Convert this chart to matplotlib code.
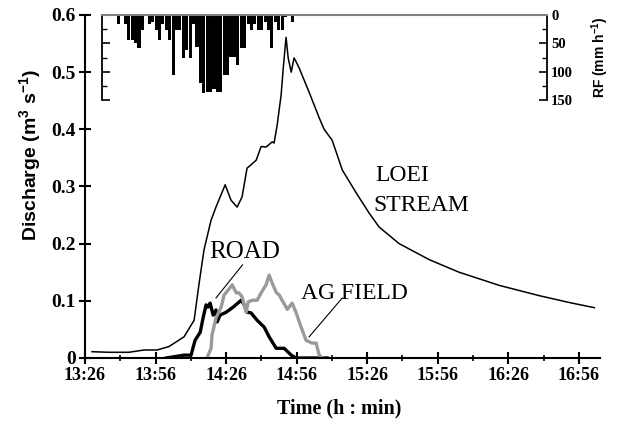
import numpy as np
import matplotlib
matplotlib.use("Agg")
import matplotlib.pyplot as plt
from matplotlib.ticker import MultipleLocator

plt.rcParams['mathtext.fontset'] = 'custom'
plt.rcParams['mathtext.rm'] = 'Liberation Sans:bold'
plt.rcParams['mathtext.bf'] = 'Liberation Sans:bold'

# time axis: minutes after 13:26
loei_t = [3.0, 10.2, 18.7, 25.1, 30.6, 35.7, 42.1, 46.4, 48.5, 50.6, 53.6, 55.7,
          59.6, 62.1, 64.7, 66.8, 68.9, 70.6, 72.8, 74.9, 77.0, 79.6, 80.4, 81.7,
          83.4, 84.3, 85.5, 86.4, 87.7, 88.9, 89.8, 91.1, 95.3, 99.6, 101.7, 105.1,
          109.4, 115.3, 120.9, 125.1, 133.6, 146.4, 159.1, 176.2, 193.2, 206.0, 216.6]
loei_q = [0.011, 0.010, 0.010, 0.014, 0.014, 0.020, 0.037, 0.066, 0.130, 0.189, 0.241, 0.264,
          0.303, 0.276, 0.264, 0.282, 0.332, 0.338, 0.346, 0.370, 0.369, 0.378, 0.376, 0.407,
          0.460, 0.507, 0.561, 0.525, 0.500, 0.525, 0.518, 0.507, 0.465, 0.420, 0.400, 0.381,
          0.329, 0.289, 0.253, 0.229, 0.200, 0.172, 0.150, 0.127, 0.109, 0.097, 0.088]

road_t = [34.5, 42.1, 45.1, 46.8, 49.0, 50.2, 51.5, 52.3, 53.2, 54.5, 55.7, 56.2, 57.4,
          60.0, 63.0, 66.4, 67.7, 69.0, 70.6, 73.2, 76.2, 78.3, 81.3, 84.7, 87.7, 89.8, 103.0]
road_q = [0.0, 0.005, 0.005, 0.031, 0.045, 0.070, 0.093, 0.089, 0.096, 0.075, 0.084, 0.063, 0.075,
          0.080, 0.089, 0.101, 0.093, 0.080, 0.079, 0.066, 0.054, 0.037, 0.017, 0.017, 0.005, 0.0, 0.0]

ag_t = [51.9, 53.6, 54.0, 55.7, 57.9, 59.1, 60.9, 62.6, 64.3, 65.5, 66.8, 68.5, 69.4, 71.1,
        73.2, 74.9, 77.0, 78.3, 79.6, 81.3, 82.6, 83.8, 85.5, 86.0, 88.1, 89.8, 91.9, 94.0,
        96.6, 98.3, 99.6, 100.9]
ag_q = [0.0, 0.017, 0.040, 0.070, 0.089, 0.110, 0.119, 0.128, 0.114, 0.114, 0.107, 0.080, 0.098,
        0.101, 0.101, 0.114, 0.128, 0.145, 0.131, 0.115, 0.110, 0.101, 0.089, 0.085, 0.096, 0.079,
        0.054, 0.031, 0.026, 0.026, 0.005, 0.0]

# rainfall bars (mm/h), consecutive intervals
rain_start = 13.2
rain_step = 1.45
rain_rf = [15, 0, 15, 44, 44, 50, 58, 26, 0, 15, 12, 26, 44, 15, 26, 44, 106, 26, 26, 76,
           62, 76, 15, 56, 120, 138, 136, 136, 130, 136, 136, 106, 106, 74, 74, 88, 58, 58,
           15, 26, 15, 26, 26, 12, 26, 58, 12, 26, 26, 4, 0, 12]
rain_t = rain_start + rain_step * np.arange(len(rain_rf))

xtick_pos = [0, 30, 60, 90, 120, 150, 180, 210]
xtick_lab = ['13:26', '13:56', '14:26', '14:56', '15:26', '15:56', '16:26', '16:56']
ytick_pos = [0, 0.1, 0.2, 0.3, 0.4, 0.5, 0.6]
ytick_lab = ['0', '0.1', '0.2', '0.3', '0.4', '0.5', '0.6']

serif = 'Liberation Serif'
sans = 'Liberation Sans'

fig = plt.figure(figsize=(6.21, 4.26), dpi=100)

ax = fig.add_axes([85/621, 1-358/426, (600-85)/621, (358-15)/426])
ax.plot(loei_t, loei_q, color='black', lw=1.1)
ax.plot(road_t, road_q, color='black', lw=2.4)
ax.plot(ag_t, ag_q, color='#9a9a9a', lw=2.4)

ax.set_xlim(0, 219)
ax.set_ylim(0, 0.6)
for s in ['top', 'right']:
    ax.spines[s].set_visible(False)
for s in ['left', 'bottom']:
    ax.spines[s].set_linewidth(1.5)
ax.set_xticks(xtick_pos)
ax.set_xticklabels(xtick_lab, fontfamily=serif, fontweight='bold', fontsize=13)
ax.set_yticks(ytick_pos)
ax.set_yticklabels(ytick_lab, fontfamily=serif, fontweight='bold', fontsize=14)
ax.xaxis.set_minor_locator(MultipleLocator(15))
ax.tick_params(which='major', direction='inout', length=9, width=1.5, pad=2)
ax.tick_params(which='minor', direction='inout', length=5, width=1.2)

ax.text(67.7, 0.185, 'ROAD', fontfamily=serif, fontsize=18, ha='center', va='center')
ax.plot([67.0, 55.7], [0.163, 0.105], color='black', lw=0.8)
ax.text(114.5, 0.112, 'AG FIELD', fontfamily=serif, fontsize=17, ha='center', va='center')
ax.plot([109.4, 95.3], [0.105, 0.037], color='black', lw=0.8)
ax.text(123.5, 0.32, 'LOEI', fontfamily=serif, fontsize=17, ha='left', va='center')
ax.text(122.5, 0.267, 'STREAM', fontfamily=serif, fontsize=17, ha='left', va='center')

fig.text(31/621, 1-155/426, 'Discharge (m$^{3}$ s$^{-1}$)', rotation=90,
         fontfamily=sans, fontweight='bold', fontsize=14, ha='center', va='center')
fig.text(339/621, 1-408/426, 'Time (h : min)', fontfamily=serif, fontweight='bold',
         fontsize=14.5, ha='center', va='center')

# rainfall inset, hanging from the top
ax2 = fig.add_axes([102/621, 1-100/426, (547-102)/621, 85/426])
ax2.patch.set_alpha(0)
ax2.bar(rain_t, rain_rf, width=rain_step*0.92, align='edge', color='black')
ax2.set_xlim((102-86)/2.35, (547-86)/2.35)
ax2.set_ylim(150, 0)
ax2.spines['bottom'].set_visible(False)
ax2.spines['top'].set_color('#808080')
ax2.spines['top'].set_linewidth(1.5)
ax2.spines['left'].set_linewidth(1.3)
ax2.spines['right'].set_linewidth(1.3)
ax2.set_xticks([])
ax2.yaxis.set_ticks_position('both')
ax2.set_yticks([0, 50, 100, 150])
ax2.set_yticklabels(['0', '50', '100', '150'], fontfamily=serif, fontweight='bold', fontsize=10.5)
ax2.yaxis.set_minor_locator(MultipleLocator(25))
ax2.tick_params(axis='y', which='major', direction='in', length=6, width=1.2,
                labelleft=False, labelright=True, pad=3)
ax2.tick_params(axis='y', which='minor', direction='in', length=3.5, width=1.0)
ax2.text(1.12, 0.5, 'RF (mm h$^{-1}$)', transform=ax2.transAxes, rotation=90,
         fontfamily=sans, fontweight='bold', fontsize=10, ha='center', va='center')

fig.savefig('out.png', dpi=100)
